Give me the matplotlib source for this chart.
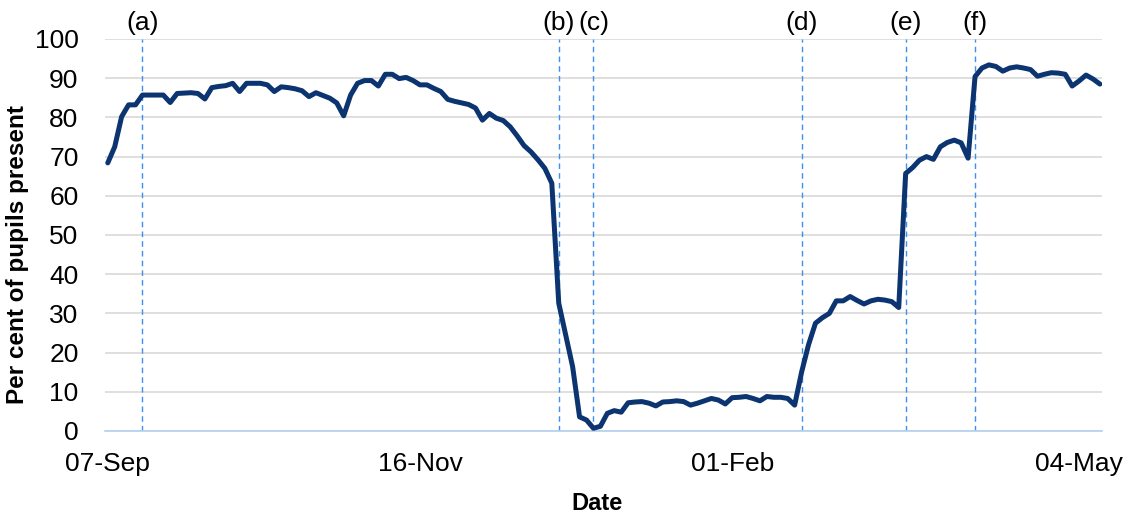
import matplotlib
matplotlib.use("Agg")
import matplotlib.pyplot as plt

plt.rcParams['font.family'] = ['Liberation Sans', 'DejaVu Sans']

# one value per school day, in order
attendance = [
    68.4, 72.5, 80.2, 83.2, 83.2, 85.7, 85.7, 85.7, 85.7, 83.8,
    86.1, 86.2, 86.3, 86.1, 84.7, 87.6, 87.9, 88.1, 88.7, 86.6,
    88.7, 88.7, 88.7, 88.3, 86.6, 87.8, 87.6, 87.3, 86.8, 85.3,
    86.3, 85.6, 84.9, 83.7, 80.4, 85.7, 88.7, 89.4, 89.4, 88.0,
    91.0, 91.0, 89.9, 90.2, 89.4, 88.3, 88.3, 87.4, 86.6, 84.6,
    84.1, 83.7, 83.3, 82.4, 79.3, 81.0, 79.8, 79.2, 77.6, 75.3,
    72.8, 71.2, 69.2, 67.0, 63.2, 32.6, 24.5, 16.4, 3.6, 2.8,
    0.7, 1.2, 4.5, 5.2, 4.8, 7.2, 7.4, 7.5, 7.1, 6.4,
    7.4, 7.5, 7.7, 7.5, 6.6, 7.1, 7.7, 8.3, 7.9, 6.9,
    8.5, 8.6, 8.8, 8.3, 7.7, 8.8, 8.6, 8.6, 8.3, 6.6,
    15.0, 22.0, 27.5, 28.9, 30.0, 33.2, 33.2, 34.3, 33.3, 32.4,
    33.2, 33.6, 33.4, 33.0, 31.5, 65.7, 67.2, 69.1, 70.0, 69.3,
    72.5, 73.6, 74.2, 73.5, 69.6, 90.4, 92.6, 93.4, 93.0, 91.8,
    92.6, 92.9, 92.6, 92.2, 90.5, 91.0, 91.4, 91.3, 91.0, 88.0,
    89.3, 90.8, 89.8, 88.5,
]

tick_days = [0, 45, 90, 140]
tick_labels = ['07-Sep', '16-Nov', '01-Feb', '04-May']

event_days = [5, 65, 70, 100, 115, 125]
event_labels = ['(a)', '(b)', '(c)', '(d)', '(e)', '(f)']

fig = plt.figure(figsize=(11.34, 5.23), dpi=100)
ax = fig.add_axes([105 / 1134, 92 / 523, 997 / 1134, 392 / 523])

ax.plot(range(len(attendance)), attendance, color='#0b3470', lw=3.6,
        solid_joinstyle='round', solid_capstyle='round', zorder=3)

for d, lab in zip(event_days, event_labels):
    ax.axvline(d, color='#3d8ff0', lw=1, ls=(0, (4, 3)), zorder=2)
    ax.text(d, 104.1, lab, ha='center', va='center', fontsize=19, clip_on=False)

ax.set_xlim(-0.4, 143.3)
ax.set_ylim(0, 100)
ax.set_yticks(range(0, 101, 10))
ax.set_xticks(tick_days)
ax.set_xticklabels(tick_labels)
ax.tick_params(axis='both', length=0, labelsize=19)
ax.tick_params(axis='y', pad=19)
ax.tick_params(axis='x', pad=15)

ax.grid(axis='y', color='#d9d9d9', lw=1.2)
ax.set_axisbelow(True)
for s in ['top', 'right', 'left']:
    ax.spines[s].set_visible(False)
ax.spines['bottom'].set_color('#b4d0f0')
ax.spines['bottom'].set_linewidth(1.2)

ax.set_ylabel('Per cent of pupils present', fontsize=17.5, fontweight='bold')
ax.yaxis.set_label_coords(-0.088, 0.45)
ax.set_xlabel('Date', fontsize=17, fontweight='bold')
ax.xaxis.set_label_coords(0.493, -0.184)
ax.xaxis.label.set_va('center')
ax.yaxis.label.set_va('center')

fig.savefig('out.png', dpi=100)
